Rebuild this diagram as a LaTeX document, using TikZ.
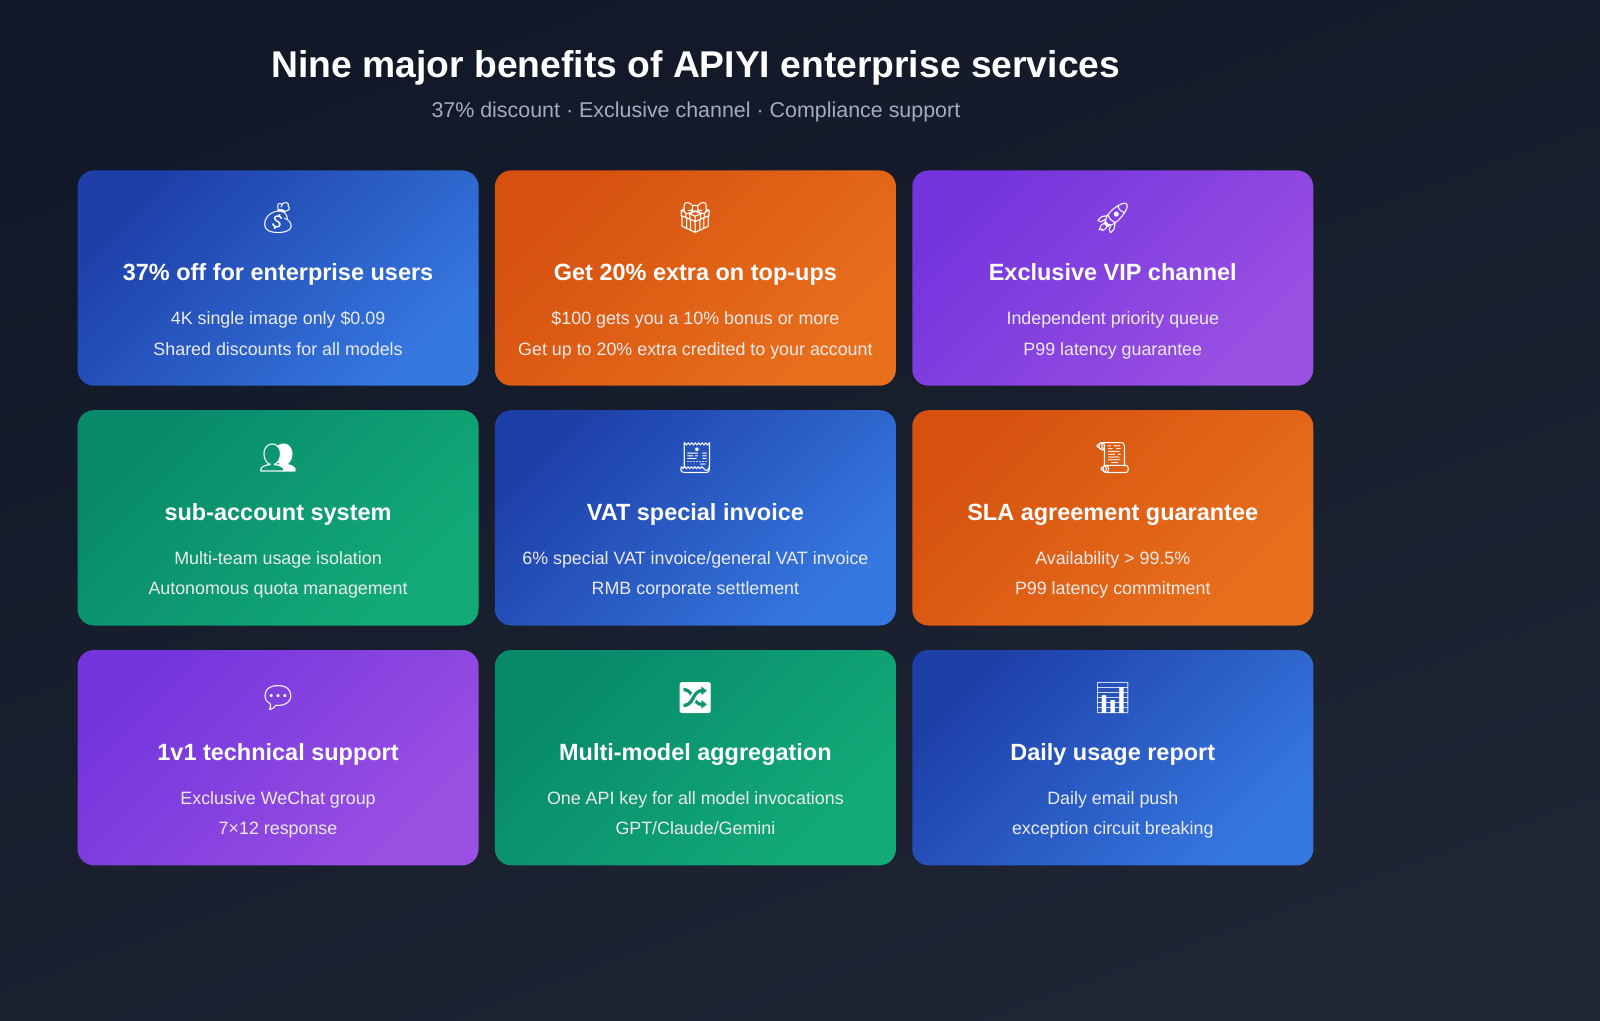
\documentclass[tikz,border=0pt]{standalone}
\usepackage{fontspec}
\setmainfont{Liberation Sans}
\newfontfamily\emo{Noto Emoji}
\definecolor{bgA}{HTML}{111827}
\definecolor{bgB}{HTML}{1F2533}
\definecolor{blA}{HTML}{1E3FA8}
\definecolor{blB}{HTML}{3578E0}
\definecolor{orA}{HTML}{D6510F}
\definecolor{orB}{HTML}{E8701C}
\definecolor{puA}{HTML}{7435DD}
\definecolor{puB}{HTML}{9A50E2}
\definecolor{grA}{HTML}{08896A}
\definecolor{grB}{HTML}{12AB78}
\definecolor{subc}{HTML}{A3ADBE}
\tikzset{
 card/.style={rounded corners=16pt},
 ttl/.style={anchor=base, text=white, font=\fontsize{23}{27}\selectfont\bfseries},
 ln/.style={anchor=base, text=white!92!black, font=\fontsize{17.5}{20}\selectfont},
 ico/.style={text=white, font=\fontsize{30}{34}\selectfont\emo},
}
\newcommand{\mycard}[9]{% x y colA colB emoji title l1 l2 name
 \shade[card, top color=#3, bottom color=#4, shading angle=45] (#1,#2) rectangle ++(393,211);
 \node[ico] (#9i) at (#1+196.5,#2+47) {#5};
 \node[ttl] (#9t) at (#1+196.5,#2+108) {#6};
 \node[ln] (#9a) at (#1+196.5,#2+151) {#7};
 \node[ln] (#9b) at (#1+196.5,#2+181) {#8};
}
\begin{document}
\begin{tikzpicture}[x=1pt,y=-1pt]
\shade[top color=bgA, bottom color=bgB, shading angle=20] (0,0) rectangle (1568,1000);
\useasboundingbox (0,0) rectangle (1568,1000);
\node[anchor=base, text=white, font=\fontsize{36.5}{42}\selectfont\bfseries] (title) at (682,76) {Nine major benefits of APIYI enterprise services};
\node[anchor=base, text=subc, font=\fontsize{21}{25}\selectfont] (sub) at (682,115) {37\% discount · Exclusive channel · Compliance support};
\mycard{76}{167}{blA}{blB}{💰}{37\% off for enterprise users}{4K single image only \$0.09}{Shared discounts for all models}{c1}
\mycard{485}{167}{orA}{orB}{🎁}{Get 20\% extra on top-ups}{\$100 gets you a 10\% bonus or more}{Get up to 20\% extra credited to your account}{c2}
\mycard{894}{167}{puA}{puB}{🚀}{Exclusive VIP channel}{Independent priority queue}{P99 latency guarantee}{c3}
\mycard{76}{402}{grA}{grB}{👥}{sub-account system}{Multi-team usage isolation}{Autonomous quota management}{c4}
\mycard{485}{402}{blA}{blB}{🧾}{VAT special invoice}{6\% special VAT invoice/general VAT invoice}{RMB corporate settlement}{c5}
\mycard{894}{402}{orA}{orB}{📜}{SLA agreement guarantee}{Availability > 99.5\%}{P99 latency commitment}{c6}
\mycard{76}{637}{puA}{puB}{💬}{1v1 technical support}{Exclusive WeChat group}{7×12 response}{c7}
\mycard{485}{637}{grA}{grB}{🔀}{Multi-model aggregation}{One API key for all model invocations}{GPT/Claude/Gemini}{c8}
\mycard{894}{637}{blA}{blB}{📊}{Daily usage report}{Daily email push}{exception circuit breaking}{c9}
\end{tikzpicture}
\end{document}
